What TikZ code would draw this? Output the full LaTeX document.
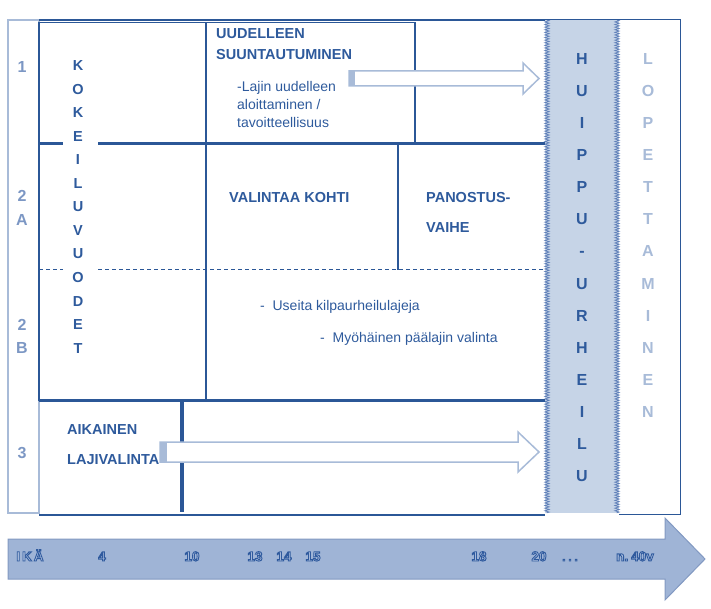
\documentclass[tikz,border=0pt]{standalone}
\usepackage{fontspec}
\setmainfont{Liberation Sans}
\usetikzlibrary{decorations.pathmorphing}
\definecolor{lineblue}{HTML}{2B5797}
\definecolor{textblue}{HTML}{2E5A9C}
\definecolor{rowgray}{HTML}{7C97C4}
\definecolor{paleblue}{HTML}{A8BBD8}
\definecolor{peakfill}{HTML}{C6D4E7}
\definecolor{peakedge}{HTML}{5F7FB8}
\definecolor{agefill}{HTML}{9FB4D6}
\definecolor{ageedge}{HTML}{8299C2}
\definecolor{agelight}{HTML}{B4C5E2}
% outlined text: light fill, blue stroke
\newcommand\outlined[1]{%
  \special{pdf:literal direct 2 Tr 0.9 w 0.184 0.353 0.620 RG}#1%
  \special{pdf:literal direct 0 Tr}}
\tikzset{%
  x=1pt,y=-1pt,%
  heading/.style={font=\bfseries\fontsize{14.5}{16}\selectfont,text=textblue,
    anchor=base west,inner sep=0pt},%
  body/.style={font=\fontsize{14}{16}\selectfont,text=textblue,
    anchor=base west,inner sep=0pt},%
  row label/.style={font=\bfseries\fontsize{16}{18}\selectfont,text=rowgray,
    anchor=base,inner sep=0pt},%
  column letter/.style={font=\bfseries\fontsize{14.5}{16}\selectfont,text=textblue,
    anchor=base,inner sep=0pt},%
  age text/.style={font=\bfseries\fontsize{13.5}{15}\selectfont,text=agelight,
    anchor=base,inner sep=0pt},%
  hollow arrow/.style={draw=paleblue,fill=white,line width=1.5pt,line join=miter},%
  zigzag edge/.style={draw=peakedge,line width=0.7pt,decorate,
    decoration={zigzag,amplitude=2.2pt,segment length=2.6pt}}%
}
\begin{document}
\begin{tikzpicture}
\useasboundingbox (0,0) rectangle (711,609);

\def\AgeY{561} % baseline of the ages

% top athletes column
\fill[peakfill] (545,20) rectangle (619,513);
\draw[zigzag edge] (547,20) -- (547,513);
\draw[zigzag edge] (617,20) -- (617,513);

% row labels column
\draw[paleblue,line width=1.5pt] (8,20) rectangle (39,513);

% frame
\draw[lineblue,line width=1.6pt] (39,20) -- (545,20);
\draw[lineblue,line width=1pt] (545,20) -- (680,20) -- (680,514) -- (619,514);
\draw[lineblue,line width=1.1pt] (39,22.5) rectangle (206,400);
\draw[lineblue,line width=1.1pt] (206,22.5) rectangle (415,143);
\draw[lineblue,line width=2.8pt] (39,143.5) -- (63,143.5);
\draw[lineblue,line width=2.5pt] (98,143.5) -- (545,143.5);
\draw[lineblue,line width=1.1pt] (398,144) -- (398,270);
\draw[lineblue,line width=1pt,dash pattern=on 4pt off 3pt] (39,269.5) -- (63,269.5);
\draw[lineblue,line width=1pt,dash pattern=on 4pt off 3pt] (98,269.5) -- (545,269.5);
\draw[lineblue,line width=3.8pt] (39,400.5) -- (206,400.5);
\draw[lineblue,line width=2.2pt] (206,400.5) -- (545,400.5);
\draw[lineblue,line width=3.6pt] (182,401) -- (182,512);
\draw[lineblue,line width=1.8pt] (39,515) -- (545,515);

% row numbers
\node[row label] (row1) at (22,73) {1};
\node[row label] (row2a) at (22,202) {2};
\node[row label] (row2a-b) at (22,226) {A};
\node[row label] (row2b) at (22,330) {2};
\node[row label] (row2b-b) at (22,353) {B};
\node[row label] (row3) at (22,458) {3};

% vertical words
\foreach \ch [count=\i from 0] in {K,O,K,E,I,L,U,V,U,O,D,E,T}
  \node[column letter] (trial-\i) at (78,{71+23.5*\i}) {\ch};
\foreach \ch [count=\i from 0] in {H,U,I,P,P,U,-,U,R,H,E,I,L,U}
  \node[column letter,font=\bfseries\fontsize{16}{18}\selectfont] (peak-\i) at (582,{65+32*\i}) {\ch};
\foreach \ch [count=\i from 0] in {L,O,P,E,T,T,A,M,I,N,E,N}
  \node[column letter,text=paleblue,font=\bfseries\fontsize{16}{18}\selectfont] (quit-\i) at (648,{65+32*\i}) {\ch};

% block texts
\node[heading] (renew) at (216,39) {UUDELLEEN};
\node[heading] (renew-2) at (216,60) {SUUNTAUTUMINEN};
\node[body] (renew-3) at (237,92) {-Lajin uudelleen};
\node[body] (renew-4) at (237,110) {aloittaminen /};
\node[body] (renew-5) at (237,128) {tavoitteellisuus};
\node[heading] (choice) at (229,203) {VALINTAA KOHTI};
\node[heading] (invest) at (426,203) {PANOSTUS-};
\node[heading] (invest-2) at (426,233) {VAIHE};
\node[body] (many) at (260,310) {-\ \ Useita kilpaurheilulajeja};
\node[body] (late) at (320,342) {-\ \ Myöhäinen päälajin valinta};
\node[heading] (early) at (67,434) {AIKAINEN};
\node[heading] (early-2) at (67,464) {LAJIVALINTA};

% hollow arrows into top sport
\draw[hollow arrow] (349,71) -- (523,71) -- (523,63) -- (539,78.5) -- (523,94) -- (523,86) -- (349,86) -- cycle;
\fill[paleblue] (349,71) rectangle (355,86);
\draw[hollow arrow] (160,442) -- (518,442) -- (518,432) -- (539,452) -- (518,472) -- (518,462) -- (160,462) -- cycle;
\fill[paleblue] (160,442) rectangle (167,462);

% age axis
\draw[fill=agefill,draw=ageedge,line width=1pt] (8,539) -- (665,539) -- (665,518) -- (705,559)
  -- (665,600) -- (665,579) -- (8,579) -- cycle;
\node[age text] (age) at (30,\AgeY) {\outlined{I\hspace{2pt}K\hspace{2pt}Ä}};
\node[age text] (age4) at (102,\AgeY) {\outlined{4}};
\node[age text] (age10) at (192,\AgeY) {\outlined{10}};
\node[age text] (age13) at (255,\AgeY) {\outlined{13}};
\node[age text] (age14) at (284,\AgeY) {\outlined{14}};
\node[age text] (age15) at (313,\AgeY) {\outlined{15}};
\node[age text] (age18) at (479,\AgeY) {\outlined{18}};
\node[age text] (age20) at (539,\AgeY) {\outlined{20}};
\node[age text,font=\bfseries\fontsize{11}{13}\selectfont] (agedots) at (570,\AgeY) {\outlined{.\hspace{3pt}.\hspace{3pt}.}};
\node[age text] (age40) at (635,\AgeY) {\outlined{n.\hspace{3pt}40v}};

\end{tikzpicture}
\end{document}
